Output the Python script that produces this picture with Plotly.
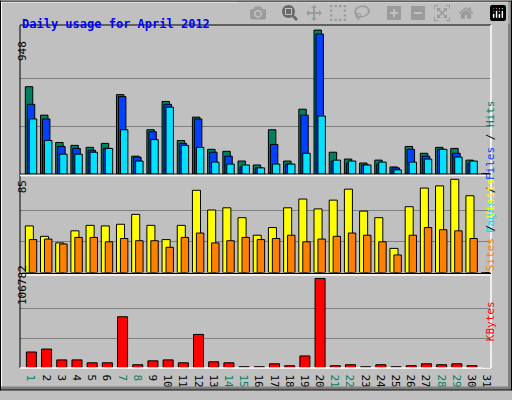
import plotly.graph_objects as go

days = list(range(1, 32))
hits = [575, 388, 208, 189, 176, 202, 523, 118, 292, 478, 221, 375, 163, 150, 86, 60,
        292, 86, 427, 948, 144, 99, 73, 92, 47, 182, 137, 176, 169, 92, 0]
files = [459, 363, 182, 169, 157, 169, 510, 112, 279, 459, 202, 363, 144, 118, 47, 41,
         195, 66, 388, 922, 86, 73, 60, 66, 41, 163, 118, 163, 137, 73, 0]
pages = [363, 221, 131, 131, 144, 169, 292, 86, 227, 440, 189, 176, 79, 66, 60, 41,
         66, 66, 137, 382, 92, 86, 60, 79, 28, 79, 99, 163, 112, 86, 0]
visits = [42.5, 33, 27, 38, 43, 42.5, 44, 53, 43, 30, 43, 75, 57, 59, 50, 34,
          41, 59, 67, 58, 66, 76, 56, 50, 22, 60, 77, 79, 85, 70, 0]
sites = [30, 30.5, 26, 32, 32, 28, 31, 29, 29, 23, 32, 36, 27, 29, 32, 30,
         31, 34, 28, 30.5, 33, 36, 34, 28, 16, 34, 41, 39, 38, 31, 0]
kbytes = [19100, 22600, 9700, 9700, 6200, 6200, 61200, 3900, 8600, 9700, 6200, 40100,
          7400, 6200, 1500, 1500, 5000, 2700, 14400, 106782, 2700, 3900, 1500, 3900,
          1500, 2700, 5000, 3900, 5000, 2700, 0]
weekend = {1, 7, 8, 14, 15, 21, 22, 28, 29}

font = "DejaVu Sans Mono"
line = dict(color="black", width=1)

# plot area in page pixels
L, R, T, B = 20, 491, 25, 377

fig = go.Figure()


def bars(y, color, offset, width, axis):
    fig.add_trace(go.Bar(x=days, y=y, offset=offset, width=width, marker=dict(color=color, line=line),
                         xaxis="x", yaxis=axis, showlegend=False, hoverinfo="y"))


bars(hits, "#008060", -0.5, 0.49, "y")
bars(files, "#0040ff", -0.37, 0.49, "y")
bars(pages, "#00e0ff", -0.24, 0.49, "y")
bars(visits, "#ffff00", -0.5, 0.53, "y2")
bars(sites, "#ff8000", -0.24, 0.49, "y2")
bars(kbytes, "#ff0000", -0.43, 0.66, "y3")

ticktext = [f"<span style='color:#008060'>{d}</span>" if d in weekend else str(d) for d in days]


def dom(y_top, y_bot):
    return [(B - y_bot) / (B - T), (B - y_top) / (B - T)]


def yax(d, top):
    return dict(domain=d, range=[0, top * 1.035], showticklabels=False, ticks="",
                tickvals=[top / 3, 2 * top / 3], gridcolor="#808080", gridwidth=1.3, zeroline=False)


fig.update_layout(
    width=512, height=400, paper_bgcolor="#c0c0c0", plot_bgcolor="#c0c0c0",
    margin=dict(l=L, r=512 - R, t=T, b=400 - B), barmode="overlay",
    font=dict(family=font, size=11, color="black"),
    xaxis=dict(range=[0.15, 31.15], tickvals=days, ticktext=ticktext, ticks="",
               showgrid=False, zeroline=False, anchor="y3", tickfont=dict(size=11)),
    yaxis=yax(dom(T, 178), 948),
    yaxis2=yax(dom(180, 279), 85),
    yaxis3=yax(dom(282, B), 106782),
)


def fx(x):
    return (x - L) / (R - L)


def fy(y):
    return (B - y) / (B - T)


ann = [
    dict(x=20, y=15, text="<b>Daily usage for April 2012</b>", font=dict(color="#0000ff", size=12), xanchor="left"),
    dict(x=14, y=40, text="948", textangle=-90),
    dict(x=14, y=191, text="85", textangle=-90),
    dict(x=14, y=315, text="106782", textangle=-90),
    dict(x=499, y=100, textangle=-90,
         text="<span style='color:#00e0ff'>Pages</span> / <span style='color:#0040ff'>Files</span> / <span style='color:#008060'>Hits</span>"),
    dict(x=499, y=230, textangle=-90,
         text="<span style='color:#ff8000'>Sites</span> / <span style='color:#ffff00'>Visits</span>"),
    dict(x=499, y=352, textangle=-90, text="<span style='color:#ff0000'>KBytes</span>"),
]
for a in ann:
    a.update(xref="paper", yref="paper", showarrow=False, x=fx(a["x"]), y=fy(a["y"]))
    fig.add_annotation(**a)


def px(x0, y0, x1, y1, color, w=1):
    fig.add_shape(type="line", xref="paper", yref="paper", x0=fx(x0), x1=fx(x1),
                  y0=fy(y0), y1=fy(y1), line=dict(color=color, width=w))


# outer bevel
px(1, 1, 511, 1, "white", 2)
px(1, 1, 1, 399, "white", 2)
px(1, 397.5, 511, 397.5, "#808080", 3)
px(509.5, 1, 509.5, 399, "#808080", 3)
px(0, 0.5, 512, 0.5, "black", 1)
px(0.5, 0, 0.5, 400, "black", 1)
px(0, 399.5, 512, 399.5, "black", 1)
px(511.5, 0, 511.5, 400, "black", 1)
# panel frames
px(L, T, R, T, "black", 1)
px(L, T, L, B, "black", 1)
px(R, T, R, B, "white", 1.5)
px(L, B, R, B, "white", 1.5)
for yy in (178, 280):
    px(L, yy, R, yy, "black", 1)
    px(L, yy + 1.5, R, yy + 1.5, "white", 1.5)

fig.write_html("out.html", post_script="document.body.style.margin='0';")
